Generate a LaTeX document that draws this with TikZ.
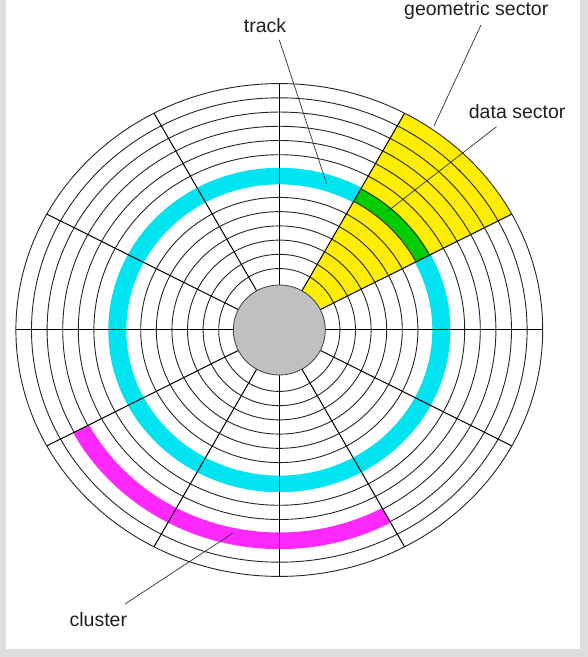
\documentclass[tikz,border=0pt]{standalone}
\usepackage{fontspec}
\setmainfont{Liberation Sans}
\usetikzlibrary{calc}
\definecolor{framegray}{HTML}{DEDEDE}
\definecolor{trackcyan}{RGB}{0,228,242}
\definecolor{secyellow}{RGB}{255,238,0}
\definecolor{secgreen}{RGB}{0,204,0}
\definecolor{clmagenta}{RGB}{255,40,255}
\definecolor{hubgray}{RGB}{192,192,192}
\begin{document}
\begin{tikzpicture}[x=1pt,y=1pt,
  ring/.style={draw=black!85, line width=0.9pt},
  spoke/.style={draw=black, line width=1pt},
  leader/.style={draw=black!80, line width=0.7pt},
  lbl/.style={anchor=base west, inner sep=0pt, font=\fontsize{19.5}{23}\selectfont, text=black!88}]
\useasboundingbox (0,0) rectangle (588,657);
\fill[framegray] (0,0) rectangle (588,657);
\fill[white] (5.5,8.3) rectangle (580.3,657);
\coordinate (C) at (279.3,327);

% geometric sector (yellow wedge)
\fill[secyellow] (C) -- ($(C)+(28.05:263.4 and 246.4)$)
  arc[start angle=28.05, end angle=61.6, x radius=263.4, y radius=246.4] -- cycle;

% data sector (green)
\begin{scope}
  \clip (C) -- ($(C)+(26.5:400)$) -- ($(C)+(60:400)$) -- cycle;
  \fill[secgreen, even odd rule] (C) ellipse[x radius=154.2, y radius=146.8]
                                 (C) ellipse[x radius=169.8, y radius=161.0];
\end{scope}

% tracks
\foreach \k in {1,...,14} {
  \pgfmathsetmacro\a{45+15.6*\k}
  \pgfmathsetmacro\b{47.2+14.23*\k}
  \draw[ring] (C) ellipse[x radius=\a, y radius=\b];
}

% highlighted track (cyan)
\begin{scope}
  \clip (C) -- ($(C)+(60:400)$) -- ($(C)+(120:400)$) -- ($(C)+(180:400)$)
        -- ($(C)+(240:400)$) -- ($(C)+(300:400)$) -- ($(C)+(360:400)$)
        -- ($(C)+(386.5:400)$) -- cycle;
  \fill[trackcyan, even odd rule] (C) ellipse[x radius=154.2, y radius=146.8]
                                  (C) ellipse[x radius=169.8, y radius=161.0];
  \draw[trackcyan, line width=2.4pt] (C) ellipse[x radius=154.2, y radius=146.8]
                                     (C) ellipse[x radius=169.8, y radius=161.0];
\end{scope}

% cluster (magenta)
\begin{scope}
  \clip (C) -- ($(C)+(206.5:400)$) -- ($(C)+(240:400)$) -- ($(C)+(270:400)$)
        -- ($(C)+(300:400)$) -- cycle;
  \fill[clmagenta, even odd rule] (C) ellipse[x radius=216.6, y radius=203.7]
                                  (C) ellipse[x radius=232.2, y radius=217.9];
  \draw[clmagenta, line width=2.4pt] (C) ellipse[x radius=216.6, y radius=203.7]
                                     (C) ellipse[x radius=232.2, y radius=217.9];
\end{scope}

% spokes
\foreach \t in {0,28.05,61.6,90,118.4,151.95,180,208.05,241.6,270,298.4,331.95}
  \draw[spoke] (C) -- ($(C)+(\t:263.4 and 246.4)$);

% hub
\fill[hubgray, draw=black!75, line width=0.8pt] (C) ellipse[x radius=46, y radius=45];

% labels
\node[lbl] (track) at (243.7,624.3) {track};
\node[lbl] (geo) at (404,641) {geometric sector};
\node[lbl] (data) at (468.7,538) {data sector};
\node[lbl] (clus) at (69.4,30.3) {cluster};

% leader lines
\coordinate (trackA) at (279.3,617.2);  \coordinate (trackB) at (326.5,473.5);
\coordinate (geoA) at (481,632);        \coordinate (geoB) at (434,531);
\coordinate (dataA) at (496.5,530.3);   \coordinate (dataB) at (387,445.3);
\coordinate (clusA) at (125,53);        \coordinate (clusB) at (233,124);
\draw[leader] (trackA) -- (trackB);
\draw[leader] (geoA) -- (geoB);
\draw[leader] (dataA) -- (dataB);
\draw[leader] (clusA) -- (clusB);
\end{tikzpicture}
\end{document}
